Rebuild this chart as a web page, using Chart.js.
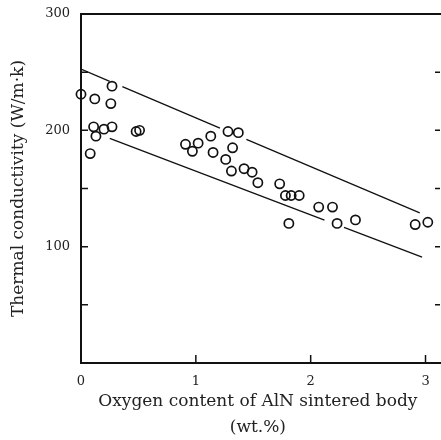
<!DOCTYPE html>
<html>
<head>
<meta charset="utf-8">
<script src="https://cdn.jsdelivr.net/npm/chart.js@4"></script>
<style>
  html, body { margin: 0; padding: 0; background: #fff; }
  #wrap { width: 441px; height: 440px; }
</style>
</head>
<body>
<div id="wrap"><canvas id="myChart"></canvas></div>
<script>
// measured samples: oxygen content (wt.%) vs thermal conductivity (W/m·k)
const oxygen = [0.00, 0.12, 0.27, 0.26, 0.11, 0.13, 0.20, 0.27, 0.08, 0.48, 0.51,
  0.91, 0.97, 1.02, 1.13, 1.15, 1.28, 1.37, 1.32, 1.26, 1.31, 1.42, 1.49, 1.54,
  1.73, 1.78, 1.83, 1.90, 2.07, 2.19, 1.81, 2.23, 2.39, 2.91, 3.02];
const conductivity = [231, 227, 238, 223, 203, 195, 201, 203, 180, 199, 200,
  188, 182, 189, 195, 181, 199, 198, 185, 175, 165, 167, 164, 155,
  154, 144, 144, 144, 134, 134, 120, 120, 123, 119, 121];

// band lines, drawn as broken segments (gaps where they pass the circles)
const upperX = [[0, 0.25], [0.36, 1.21], [1.44, 2.95]];
const upperY = [[252.6, 242.1], [237.5, 201.9], [192.3, 129]];
const lowerX = [[0.25, 2.12], [2.29, 2.97]];
const lowerY = [[193, 122.9], [116.5, 91]];

const yTickLabels = [100, 200, 300];
const xTickLabels = [0, 1, 2, 3];

const font = "'DejaVu Serif', 'Liberation Serif', serif";

function segments(xs, ys) {
  return xs.map((seg, i) => ({
    type: 'line',
    data: seg.map((x, j) => ({ x: x, y: ys[i][j] })),
    borderColor: '#111',
    borderWidth: 1.3,
    pointRadius: 0,
    fill: false
  }));
}

const points = oxygen.map((x, i) => ({ x: x, y: conductivity[i] }));

// inward tick marks on both y sides and the bottom axis
const innerTicks = {
  id: 'innerTicks',
  afterDraw(chart) {
    const c = chart.ctx, a = chart.chartArea;
    const xs = chart.scales.x, ys = chart.scales.y;
    const right = chart.width - 1;
    c.save();
    c.strokeStyle = '#111';
    c.lineWidth = 1.5;
    [50, 100, 150, 200, 250].forEach(v => {
      const py = ys.getPixelForValue(v);
      c.beginPath();
      c.moveTo(a.left, py); c.lineTo(a.left + 7, py);
      c.moveTo(right, py); c.lineTo(right - 5, py);
      c.stroke();
    });
    [1, 2, 3].forEach(v => {
      const px = xs.getPixelForValue(v);
      c.beginPath();
      c.moveTo(px, a.bottom); c.lineTo(px, a.bottom - 8);
      c.stroke();
    });
    // frame: thick left, bottom, top
    c.lineWidth = 2;
    c.beginPath();
    c.moveTo(chart.width, a.top); c.lineTo(a.left, a.top);
    c.lineTo(a.left, a.bottom);
    c.lineTo(chart.width, a.bottom);
    c.stroke();
    c.restore();
  }
};

const ctx = document.getElementById('myChart').getContext('2d');
new Chart(ctx, {
  type: 'scatter',
  data: {
    datasets: [
      ...segments(upperX, upperY),
      ...segments(lowerX, lowerY),
      {
        data: points,
        pointStyle: 'circle',
        pointRadius: 4.6,
        pointBorderWidth: 1.7,
        pointBorderColor: '#111',
        pointBackgroundColor: 'rgba(255,255,255,0)',
        showLine: false,
        clip: false
      }
    ]
  },
  options: {
    responsive: true,
    maintainAspectRatio: false,
    animation: false,
    layout: { padding: { top: 14, right: 0, left: 8, bottom: 0 } },
    plugins: {
      legend: { display: false },
      tooltip: { enabled: false }
    },
    scales: {
      x: {
        type: 'linear',
        min: 0,
        max: 3.08,
        afterBuildTicks(scale) {
          scale.ticks = xTickLabels.map(v => ({ value: v }));
        },
        ticks: {
          color: '#222',
          font: { family: font, size: 13 },
          padding: 3,
          maxRotation: 0,
          callback: v => String(v)
        },
        grid: { display: false },
        border: { display: false },
        title: {
          display: true,
          text: ['Oxygen content of AlN sintered body', '(wt.%)'],
          color: '#222',
          font: { family: font, size: 17, lineHeight: 1.5 },
          padding: { top: 4, bottom: 0 }
        },
        afterFit(scale) {
          scale.height = 77;
          scale.paddingRight = 0;
        }
      },
      y: {
        type: 'linear',
        min: 0,
        max: 300,
        afterBuildTicks(scale) {
          scale.ticks = yTickLabels.map(v => ({ value: v }));
        },
        ticks: {
          color: '#222',
          font: { family: font, size: 13 },
          padding: 3,
          callback: v => String(v)
        },
        grid: { display: false },
        border: { display: false },
        title: {
          display: true,
          text: 'Thermal conductivity (W/m\u00b7k)',
          color: '#222',
          font: { family: font, size: 17 },
          padding: { top: 0, bottom: 4 }
        },
        afterFit(scale) { scale.width = 73; }
      }
    }
  },
  plugins: [innerTicks]
});
</script>
</body>
</html>
